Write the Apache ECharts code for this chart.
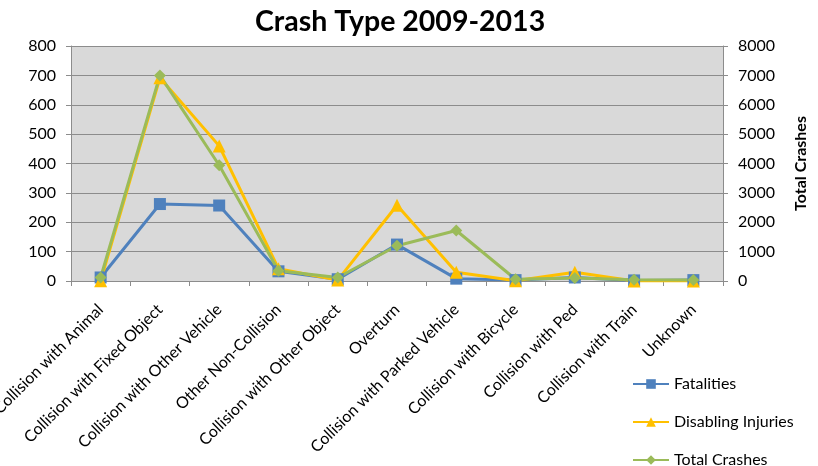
<!DOCTYPE html>
<html>
<head>
<meta charset="utf-8">
<script src="https://cdn.jsdelivr.net/npm/echarts@6/dist/echarts.min.js"></script>
<style>
  html, body { margin: 0; padding: 0; background: #fff; }
  #chart { width: 818px; height: 466px; }
</style>
</head>
<body>
<div id="chart"></div>
<script>
// crash types
const categories = [
  'Collision with Animal',
  'Collision with Fixed Object',
  'Collision with Other Vehicle',
  'Other Non-Collision',
  'Collision with Other Object',
  'Overturn',
  'Collision with Parked Vehicle',
  'Collision with Bicycle',
  'Collision with Ped',
  'Collision with Train',
  'Unknown'
]
const fatalities = [12, 262, 257, 33, 6, 124, 8, 3, 12, 2, 3]
const disablingInjuries = [1, 692, 460, 42, 3, 258, 30, 1, 30, 0, 0]
const totalCrashes = [120, 7000, 3940, 350, 120, 1200, 1720, 60, 100, 40, 30]

const leftTicks = { min: 0, max: 800, interval: 100 }
const rightTicks = { min: 0, max: 8000, interval: 1000 }

const font = 'Lato, "Open Sans", sans-serif'
const chart = echarts.init(document.getElementById('chart'))

chart.setOption({
  backgroundColor: '#fff',
  animation: false,
  title: {
    text: 'Crash Type 2009-2013',
    left: 250,
    top: 2,
    textStyle: { fontFamily: font, fontSize: 28.5, fontWeight: 'bold', color: '#000' }
  },
  legend: {
    orient: 'vertical',
    left: 632,
    top: 376,
    padding: 0,
    height: 100,
    itemGap: 22,
    itemWidth: 36,
    itemHeight: 12,
    textStyle: { fontFamily: font, fontSize: 16, color: '#000' },
    data: ['Fatalities', 'Disabling Injuries', 'Total Crashes']
  },
  grid: {
    left: 71,
    right: 95,
    top: 46,
    bottom: 185,
    containLabel: false,
    outerBoundsMode: 'none',
    show: true,
    backgroundColor: '#d9d9d9',
    borderWidth: 0
  },
  xAxis: {
    type: 'category',
    data: categories,
    boundaryGap: true,
    axisLine: { lineStyle: { color: '#8c8c8c', width: 1 } },
    axisTick: { show: true, length: 5, lineStyle: { color: '#8c8c8c' } },
    axisLabel: {
      interval: 0,
      rotate: 45,
      margin: 26,
      fontFamily: font,
      fontSize: 16,
      color: '#000'
    }
  },
  yAxis: [
    {
      type: 'value',
      min: leftTicks.min,
      max: leftTicks.max,
      interval: leftTicks.interval,
      axisLine: { show: true, lineStyle: { color: '#8c8c8c' } },
      axisTick: { show: true, length: 5, lineStyle: { color: '#8c8c8c' } },
      axisLabel: { margin: 15, fontFamily: font, fontSize: 16, color: '#000' },
      splitLine: { lineStyle: { color: '#8c8c8c', width: 1 } }
    },
    {
      type: 'value',
      min: rightTicks.min,
      max: rightTicks.max,
      interval: rightTicks.interval,
      name: 'Total Crashes',
      nameLocation: 'middle',
      nameRotate: 90,
      nameGap: 70,
      nameTextStyle: { fontFamily: font, fontSize: 16, fontWeight: 'bold', color: '#000' },
      axisLine: { show: true, lineStyle: { color: '#8c8c8c' } },
      axisTick: { show: true, length: 5, lineStyle: { color: '#8c8c8c' } },
      axisLabel: {
        margin: 15,
        fontFamily: font,
        fontSize: 16,
        color: '#000',
        formatter: (v) => String(v)
      },
      splitLine: { show: false }
    }
  ],
  series: [
    {
      name: 'Fatalities',
      type: 'line',
      yAxisIndex: 0,
      data: fatalities,
      symbol: 'rect',
      symbolSize: 12,
      lineStyle: { width: 3, color: '#4f81bd' },
      itemStyle: { color: '#4f81bd' }
    },
    {
      name: 'Disabling Injuries',
      type: 'line',
      yAxisIndex: 0,
      data: disablingInjuries,
      symbol: 'triangle',
      symbolSize: 13,
      lineStyle: { width: 3, color: '#ffc000' },
      itemStyle: { color: '#ffc000' }
    },
    {
      name: 'Total Crashes',
      type: 'line',
      yAxisIndex: 1,
      data: totalCrashes,
      symbol: 'diamond',
      symbolSize: 12,
      lineStyle: { width: 3, color: '#9bbb59' },
      itemStyle: { color: '#9bbb59' }
    }
  ]
})
</script>
</body>
</html>
